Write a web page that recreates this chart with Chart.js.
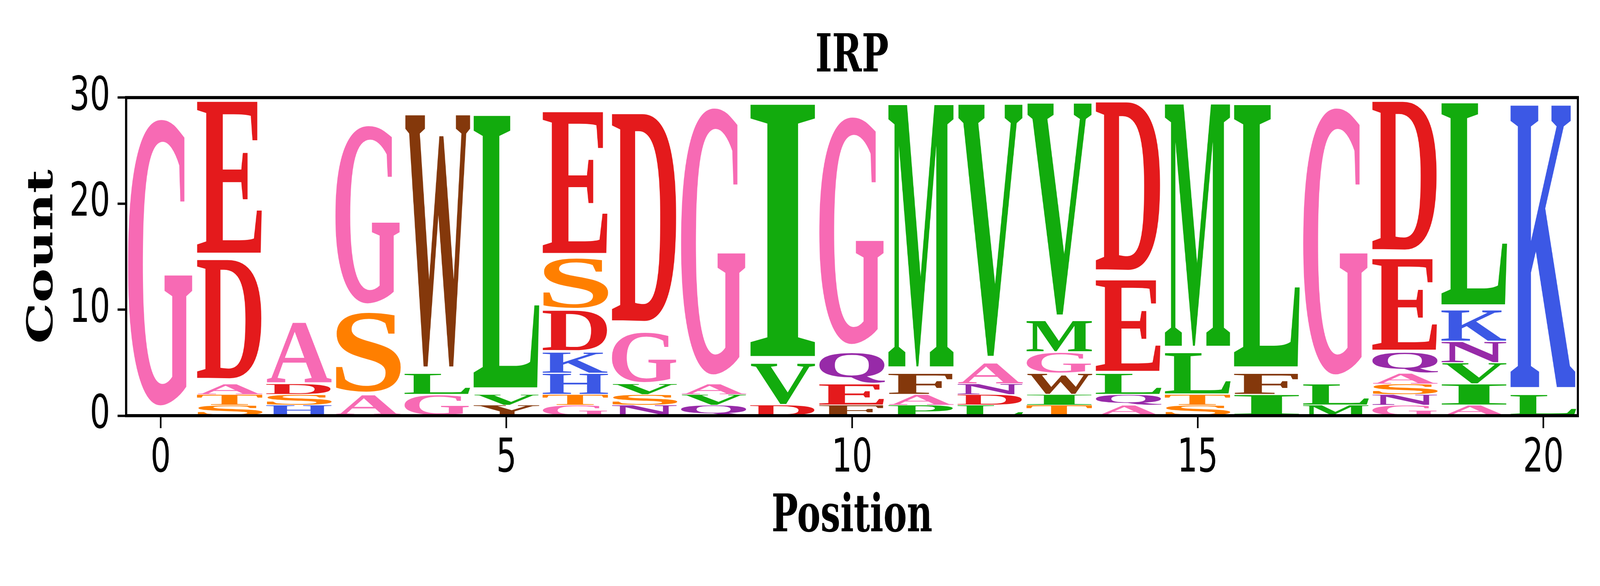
<!DOCTYPE html>
<html>
<head>
<meta charset="utf-8">
<title>IRP logo</title>
<script src="https://cdn.jsdelivr.net/npm/chart.js@4/dist/chart.umd.min.js"></script>
<style>
  html, body { margin: 0; padding: 0; background: #fff; overflow: hidden; }
  canvas { display: block; transform-origin: 0 0; }
</style>
</head>
<body>
<canvas id="logo" width="6000" height="1500"></canvas>
<script>
/* sequence logo for IRP, one stacked bar per letter */

// positions along the motif
const positions = [0, 1, 2, 3, 4, 5, 6, 7, 8, 9, 10, 11, 12, 13, 14, 15, 16, 17, 18, 19, 20];

// letters at each position, bottom of the stack first
const stackLetters = [
  "G", "STADE", "HSDA", "ASG", "GLW", "YVL", "GTHKDSE", "NSVGD", "QVAG", "DVI",
  "FEQG", "PAFM", "LDNAV", "TIWGMV", "AQLED", "STLM", "IFL", "MLG", "GNSAQED",
  "AIVNKL", "LK"
];

// counts for those letters, same order
const stackCounts = [
  [29],
  [1, 1, 1, 12, 15],
  [1, 1, 1, 6],
  [2, 8, 18],
  [2, 2, 25],
  [1, 1, 27],
  [1, 1, 2, 2, 4, 5, 14],
  [1, 1, 1, 5, 21],
  [1, 1, 1, 27],
  [1, 4, 25],
  [1, 2, 3, 23],
  [1, 1, 2, 26],
  [1, 1, 1, 2, 25],
  [1, 1, 2, 2, 3, 21],
  [1, 1, 2, 9, 17],
  [1, 1, 4, 24],
  [2, 2, 26],
  [1, 2, 27],
  [1, 1, 1, 1, 2, 9, 15],
  [1, 2, 2, 2, 3, 20],
  [2, 28]
];

const yTicks = [0, 10, 20, 30];
const xTicks = [0, 5, 10, 15, 20];

// functional group colours
const groupLetters = ["GA", "STC", "VLIMP", "FWY", "DE", "NQ", "HKR"];
const groupColors = ["#f76ab4", "#ff7f00", "#12ab0d", "#84380b", "#e41a1c", "#972aa8", "#3c58e5"];

const letterColor = ch => {
  const i = groupLetters.findIndex(g => g.includes(ch));
  return i < 0 ? "#000" : groupColors[i];
};

const VPAD = 0.05;
const LETTER_FONT = 'bold 400px "Liberation Serif"';

// the chart is laid out on a 6000x1500 page; fit that page into the window
const canvas = document.getElementById("logo");
const fitCanvas = () => {
  const sx = (window.innerWidth || 6000) / 6000;
  const sy = (window.innerHeight || 1500) / 1500;
  canvas.style.transform = `scale(${sx}, ${sy})`;
};
fitCanvas();

// one dataset per stack layer
const layerCount = Math.max(...stackCounts.map(c => c.length));
const datasets = [];
for (let l = 0; l < layerCount; l++) {
  const data = [];
  const letters = [];
  positions.forEach((p, i) => {
    if (stackCounts[i][l] !== undefined) {
      data.push({ x: p, y: stackCounts[i][l] });
      letters.push(stackLetters[i][l]);
    }
  });
  datasets.push({
    label: "layer " + l,
    data: data,
    letters: letters,
    backgroundColor: "rgba(0,0,0,0)",
    borderWidth: 0,
    categoryPercentage: 1.0,
    barPercentage: 0.95
  });
}

// stretch a glyph so its ink fills the box
const drawGlyph = (ctx, ch, left, top, w, h, color) => {
  ctx.save();
  ctx.font = LETTER_FONT;
  ctx.textAlign = "left";
  ctx.textBaseline = "alphabetic";
  const m = ctx.measureText(ch);
  const gw = m.actualBoundingBoxLeft + m.actualBoundingBoxRight;
  const gh = m.actualBoundingBoxAscent + m.actualBoundingBoxDescent;
  ctx.translate(left, top);
  ctx.scale(w / gw, h / gh);
  ctx.fillStyle = color;
  ctx.fillText(ch, m.actualBoundingBoxLeft, m.actualBoundingBoxAscent);
  ctx.restore();
};

const letterPlugin = {
  id: "letters",
  afterDatasetsDraw(chart) {
    const ctx = chart.ctx;
    chart.data.datasets.forEach((ds, di) => {
      const meta = chart.getDatasetMeta(di);
      meta.data.forEach((bar, j) => {
        const ch = ds.letters[j];
        if (!ch) return;
        const { x, y, base, width } = bar.getProps(["x", "y", "base", "width"], true);
        const h = base - y;
        const pad = (h * VPAD) / 2;
        drawGlyph(ctx, ch, x - width / 2, y + pad, width, h - 2 * pad, letterColor(ch));
      });
    });
  }
};

// box around the plot, all four sides
const framePlugin = {
  id: "frame",
  afterDraw(chart) {
    const { ctx, chartArea } = chart;
    ctx.save();
    ctx.strokeStyle = "#000";
    ctx.lineWidth = 8;
    ctx.strokeRect(chartArea.left, chartArea.top, chartArea.right - chartArea.left, chartArea.bottom - chartArea.top);
    ctx.restore();
  }
};

const tickGrid = {
  display: true,
  offset: false,
  drawOnChartArea: false,
  drawTicks: true,
  tickLength: 32,
  tickWidth: 6,
  tickColor: "#000"
};

const chart = new Chart(canvas.getContext("2d"), {
  type: "bar",
  data: { datasets: datasets },
  plugins: [letterPlugin, framePlugin],
  options: {
    responsive: false,
    devicePixelRatio: 1,
    animation: false,
    events: [],
    layout: { padding: { left: 0, right: 83, top: 0, bottom: 0 } },
    plugins: {
      legend: { display: false },
      tooltip: { enabled: false },
      title: {
        display: true,
        fullSize: false, // centre over the plot, not the whole canvas
        text: "IRP",
        color: "#000",
        font: { family: "DejaVu Serif", size: 134, weight: "bold" },
        padding: { top: 68, bottom: 21 }
      }
    },
    scales: {
      x: {
        type: "linear",
        stacked: true,
        offset: false,
        min: -0.5,
        max: 20.5,
        afterFit: scale => { scale.height = 436; },
        afterBuildTicks: scale => { scale.ticks = xTicks.map(v => ({ value: v })); },
        ticks: {
          color: "#000",
          font: { family: "DejaVu Sans", size: 120 },
          padding: 8,
          maxRotation: 0
        },
        grid: tickGrid,
        border: { display: false },
        title: {
          display: true,
          text: "Position",
          color: "#000",
          font: { family: "DejaVu Serif", size: 132, weight: "bold" },
          padding: { top: 0, bottom: 95 }
        }
      },
      y: {
        stacked: true,
        min: 0,
        max: 30,
        afterFit: scale => { scale.width = 473; },
        afterBuildTicks: scale => { scale.ticks = yTicks.map(v => ({ value: v })); },
        ticks: {
          color: "#000",
          font: { family: "DejaVu Sans", size: 120 },
          padding: 28
        },
        grid: tickGrid,
        border: { display: false },
        title: {
          display: true,
          text: "Count",
          color: "#000",
          font: { family: "DejaVu Serif", size: 132, weight: "bold" },
          padding: { top: 83, bottom: 0 }
        }
      }
    }
  }
});
</script>
</body>
</html>
